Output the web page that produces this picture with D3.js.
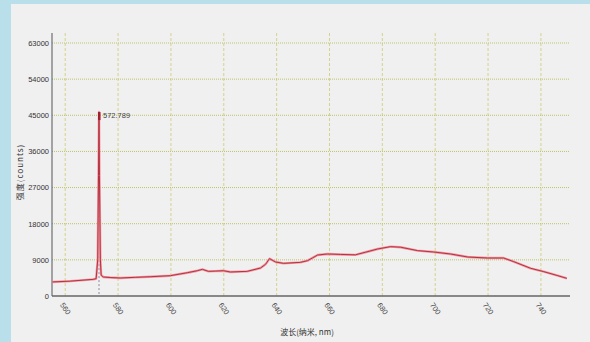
<!DOCTYPE html>
<html>
<head>
<meta charset="utf-8">
<script src="https://cdn.jsdelivr.net/npm/d3@7/dist/d3.min.js"></script>
<style>
  html, body { margin: 0; padding: 0; background: #b8dfea; }
  svg { display: block; }
</style>
</head>
<body>
<svg id="chart" width="590" height="342"></svg>
<script>
// Spectrum samples: wavelength (nm) and intensity (counts)
const wavelengths = [555.1, 561.9, 570.6, 571.7, 572.3, 572.6, 572.789, 572.95, 573.3, 573.6, 574.4, 577.0,
  580.8, 586.5, 592.2, 599.8, 606.2, 610.0, 611.9, 614.2, 616.8, 619.8, 622.5, 628.9, 633.9, 635.8, 637.3,
  639.6, 642.6, 649.0, 651.7, 653.6, 655.5, 659.2, 664.2, 669.8, 673.6, 678.2, 683.1, 686.9, 693.3, 699.4,
  705.8, 712.3, 719.8, 725.9, 729.7, 736.1, 741.1, 746.4, 749.8];
const intensities = [3500, 3700, 4150, 4300, 9000, 30000, 45800, 30000, 9000, 5200, 4730, 4600,
  4480, 4650, 4800, 5060, 5800, 6300, 6640, 6140, 6200, 6300, 5980, 6140, 6970, 7890, 9300,
  8470, 8130, 8380, 8800, 9500, 10200, 10460, 10350, 10250, 10900, 11700, 12290, 12150, 11300, 10960,
  10460, 9710, 9460, 9460, 8550, 6900, 6060, 5060, 4390];

const yTicks = [0, 9000, 18000, 27000, 36000, 45000, 54000, 63000];
const xTicks = [560, 580, 600, 620, 640, 660, 680, 700, 720, 740];
const peakWavelength = 572.789;
const peakValue = 45800;
const xTitle = "波长(纳米, nm)";
const yTitle = "强度(counts)";

const data = wavelengths.map((w, i) => ({ w, v: intensities[i] }));

const svg = d3.select("#chart");

// panel background
svg.append("rect").attr("x", 11).attr("y", 4).attr("width", 579).attr("height", 338).attr("fill", "#f0f0f0");

const x = d3.scaleLinear().domain([555, 751]).range([52, 570]);
const y = d3.scaleLinear().domain([0, 63000]).range([296, 43]);
const topY = 33;

// vertical dashed grid
svg.append("g").selectAll("line").data(xTicks).join("line")
  .attr("x1", d => x(d)).attr("x2", d => x(d))
  .attr("y1", topY).attr("y2", y(0))
  .attr("stroke", "#d6d28e").attr("stroke-width", 1).attr("stroke-dasharray", "3,2");

// horizontal dotted grid
svg.append("g").selectAll("line").data(yTicks.filter(d => d > 0)).join("line")
  .attr("x1", x(555)).attr("x2", x(751))
  .attr("y1", d => y(d)).attr("y2", d => y(d))
  .attr("stroke", "#bcc468").attr("stroke-width", 1).attr("stroke-dasharray", "1,1");

// y axis
const yAxis = svg.append("g").attr("transform", `translate(${x(555)},0)`)
  .call(d3.axisLeft(y).tickValues(yTicks).tickSize(0).tickPadding(3).tickFormat(d3.format("d")));
yAxis.select(".domain").attr("d", `M0,${topY}V${y(0)}`).attr("stroke", "#555");
yAxis.selectAll("text").attr("font-family", "Liberation Sans, Arial, sans-serif")
  .attr("font-size", 7.5).attr("fill", "#333");

// x axis
const xAxis = svg.append("g").attr("transform", `translate(0,${y(0)})`)
  .call(d3.axisBottom(x).tickValues(xTicks).tickSize(0).tickFormat(d3.format("d")));
xAxis.select(".domain").attr("d", `M${x(555)},0H${x(751)}`).attr("stroke", "#666").attr("stroke-width", 1.5);
xAxis.selectAll("text")
  .attr("font-family", "Liberation Sans, Arial, sans-serif").attr("font-size", 7.5).attr("fill", "#444")
  .attr("text-anchor", "start").attr("dy", 0).attr("y", 0)
  .attr("transform", "translate(-6,9) rotate(55)");

// peak marker dashed line
svg.append("line")
  .attr("x1", x(peakWavelength)).attr("x2", x(peakWavelength))
  .attr("y1", y(peakValue)).attr("y2", y(0) - 2)
  .attr("stroke", "#8a8a9a").attr("stroke-width", 1).attr("stroke-dasharray", "2,2");

// spectrum line: soft halo plus core stroke
const line = d3.line().x(d => x(d.w)).y(d => y(d.v));
svg.append("path").datum(data).attr("d", line)
  .attr("fill", "none").attr("stroke", "#ee9aa4").attr("stroke-width", 2.4).attr("stroke-linejoin", "round");
svg.append("path").datum(data).attr("d", line)
  .attr("fill", "none").attr("stroke", "#b8303e").attr("stroke-width", 1).attr("stroke-linejoin", "round");

// peak marker and label
svg.append("rect").attr("x", x(peakWavelength) - 1).attr("y", y(peakValue))
  .attr("width", 2.5).attr("height", 8).attr("fill", "#a02030");
svg.append("text").attr("x", x(peakWavelength) + 4).attr("y", y(peakValue) + 6)
  .attr("font-family", "Liberation Sans, Arial, sans-serif").attr("font-size", 7.5).attr("fill", "#444")
  .text(d3.format(".3f")(peakWavelength));

// axis titles
svg.append("text").attr("x", 307).attr("y", 335).attr("text-anchor", "middle")
  .attr("font-family", "Noto Sans CJK SC, sans-serif").attr("font-size", 8).attr("fill", "#333")
  .text(xTitle);
svg.append("text").attr("transform", "translate(23,172) rotate(-90)").attr("text-anchor", "middle")
  .attr("font-family", "Noto Sans CJK SC, sans-serif").attr("font-size", 8).attr("fill", "#333")
  .attr("letter-spacing", 1)
  .text(yTitle);
</script>
</body>
</html>
